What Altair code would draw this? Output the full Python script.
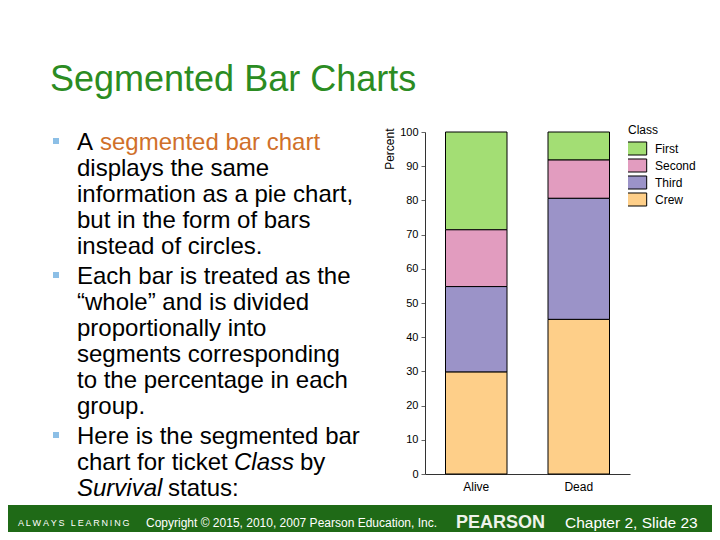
import altair as alt
import pandas as pd

# ---------------- data ----------------
survival_status = ["Alive", "Dead"]
ticket_classes = ["First", "Second", "Third", "Crew"]
alive_percent = [28.6, 16.6, 25.0, 29.8]
dead_percent = [8.2, 11.2, 35.4, 45.2]
class_colors = ["#a3de74", "#e29cbf", "#9b93c8", "#fecf89"]
y_ticks = [0, 10, 20, 30, 40, 50, 60, 70, 80, 90, 100]

slide_title = "Segmented Bar Charts"
bullet_1 = ["displays the same", "information as a pie chart,",
            "but in the form of bars", "instead of circles."]
bullet_2 = ["Each bar is treated as the", "\u201cwhole\u201d and is divided",
            "proportionally into", "segments corresponding",
            "to the percentage in each", "group."]
footer_left = "A\u2009L\u2009W\u2009A\u2009Y\u2009S\u2002\u2009L\u2009E\u2009A\u2009R\u2009N\u2009I\u2009N\u2009G"
footer_copy = "Copyright \u00a9 2015, 2010, 2007 Pearson Education, Inc."
footer_brand = "PEARSON"
footer_slide = "Chapter 2, Slide 23"

rows = []
for status, values in zip(survival_status, [alive_percent, dead_percent]):
    for i, (cls, v) in enumerate(zip(ticket_classes, values)):
        rows.append({"Survival": status, "Class": cls, "Percent": v,
                     "rank": len(ticket_classes) - 1 - i})
df = pd.DataFrame(rows)

# ---------------- style ----------------
OX, OY = 425, 132          # page position of plot origin
PW, PH = 205, 342
BODY = "Liberation Sans, Arial, sans-serif"
SMALL = "Liberation Sans, Arial, sans-serif"
TITLE_GREEN = "#2b8c22"
FOOTER_GREEN = "#1f6a17"
ORANGE = "#d0702a"
BULLET = "#8cbfe6"


def txt(text, px, py, size=24, color="black", font=BODY, style="normal",
        weight="normal", align="left"):
    return alt.Chart(pd.DataFrame({"label": [text]})).mark_text(
        align=align, baseline="alphabetic", font=font, fontSize=size,
        fontStyle=style, fontWeight=weight, color=color
    ).encode(x=alt.value(px - OX), y=alt.value(py - OY), text="label:N")


def box(px1, py1, px2, py2, color):
    return alt.Chart(pd.DataFrame({"k": [0]})).mark_rect(color=color, opacity=1).encode(
        x=alt.value(px1 - OX), x2=alt.value(px2 - OX),
        y=alt.value(py1 - OY), y2=alt.value(py2 - OY))


bars = alt.Chart(df).mark_bar(stroke="black", strokeWidth=1, opacity=1).encode(
    x=alt.X("Survival:N", sort=survival_status,
            scale=alt.Scale(paddingInner=0.4, paddingOuter=0.2),
            axis=alt.Axis(title=None, labelAngle=0, ticks=False, labelPadding=7,
                          labelFont=SMALL, labelFontSize=12, labelColor="black",
                          domainColor="#333333", domainWidth=1)),
    y=alt.Y("Percent:Q", stack="zero",
            scale=alt.Scale(domain=[0, 100], nice=False),
            axis=alt.Axis(values=y_ticks, grid=False, title="Percent",
                          titleFont=SMALL, titleFontSize=12, titleFontWeight="normal",
                          titleColor="black", titleX=-36, titleY=-4,
                          titleAlign="right", titleBaseline="middle",
                          labelFont=SMALL, labelFontSize=11, labelColor="black",
                          labelPadding=3, tickSize=4, tickColor="#666666",
                          domainColor="#333333")),
    color=alt.Color("Class:N", sort=ticket_classes,
                    scale=alt.Scale(domain=ticket_classes, range=class_colors),
                    legend=alt.Legend(orient="none", legendX=203, legendY=-7,
                                      title="Class", titleFont=SMALL, titleFontSize=12,
                                      titleFontWeight="normal", titleColor="black",
                                      titlePadding=3, labelFont=SMALL, labelFontSize=12,
                                      labelColor="black", labelOffset=12,
                                      symbolType="M-1.6,-0.93H1.6V0.93H-1.6Z", symbolSize=196,
                                      symbolStrokeColor="black", symbolStrokeWidth=1,
                                      symbolOpacity=1, rowPadding=0, clipHeight=17,
                                      padding=0)),
    order=alt.Order("rank:Q"),
)

layers = [bars]
layers.append(txt(slide_title, 50, 91, size=36, color=TITLE_GREEN))

# bullets
for by in [138, 272, 432]:
    layers.append(box(53, by, 59, by + 6, BULLET))

layers.append(txt("A", 77, 150))
layers.append(txt("segmented bar chart", 100, 150, color=ORANGE))
for i, line in enumerate(bullet_1):
    layers.append(txt(line, 77, 176 + 26 * i))
for i, line in enumerate(bullet_2):
    layers.append(txt(line, 77, 284 + 26 * i))
layers.append(txt("Here is the segmented bar", 77, 444))
layers.append(txt("chart for ticket", 77, 470))
layers.append(txt("Class", 234, 470, style="italic"))
layers.append(txt("by", 300, 470))
layers.append(txt("Survival", 77, 496, style="italic"))
layers.append(txt("status:", 168, 496))

# footer
layers.append(box(0, 505, 720, 545, FOOTER_GREEN))
layers.append(txt(footer_left, 18, 526, size=9, color="white"))
layers.append(txt(footer_copy, 146, 527, size=12, color="white"))
layers.append(txt(footer_brand, 456, 528, size=18, color="#eef3ea", weight="bold"))
layers.append(txt(footer_slide, 565, 528, size=15.5, color="white"))

chart = alt.layer(*layers).properties(
    width=PW, height=PH,
    background="white",
    autosize=alt.AutoSizeParams(type="none"),
    padding={"left": OX - 8, "top": OY - 8, "right": 720 - 8 - (OX + PW),
             "bottom": 532 - (OY + PH)},
).configure_view(stroke=None)

chart.save("out.html", embed_options={"renderer": "svg", "actions": False})
